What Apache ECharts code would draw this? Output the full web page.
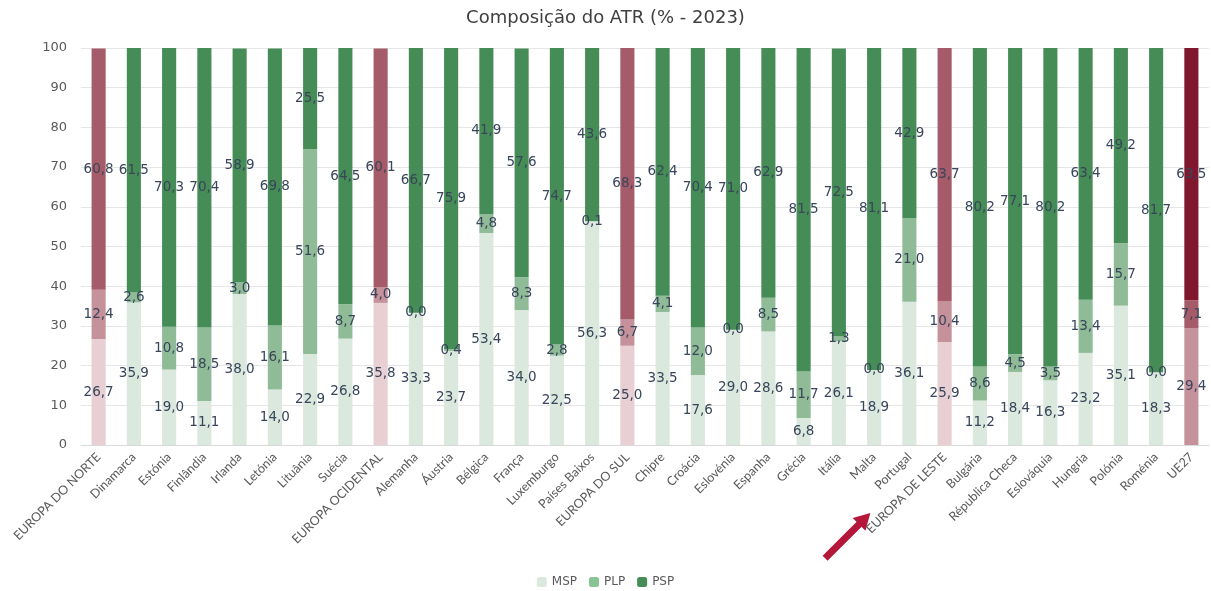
<!DOCTYPE html>
<html>
<head>
<meta charset="utf-8">
<script src="https://cdn.jsdelivr.net/npm/echarts@6/dist/echarts.min.js"></script>
<style>
  html, body { margin: 0; padding: 0; background: #fff; }
  #chart { width: 1211px; height: 591px; }
</style>
</head>
<body>
<div id="chart"></div>
<script>
// dados
const categories = ['EUROPA DO NORTE', 'Dinamarca', 'Estónia', 'Finlândia', 'Irlanda', 'Letónia', 'Lituânia', 'Suécia',
  'EUROPA OCIDENTAL', 'Alemanha', 'Áustria', 'Bélgica', 'França', 'Luxemburgo', 'Países Baixos',
  'EUROPA DO SUL', 'Chipre', 'Croácia', 'Eslovénia', 'Espanha', 'Grécia', 'Itália', 'Malta', 'Portugal',
  'EUROPA DE LESTE', 'Bulgária', 'Républica Checa', 'Eslováquia', 'Hungria', 'Polónia', 'Roménia', 'UE27']
const msp = [26.7, 35.9, 19.0, 11.1, 38.0, 14.0, 22.9, 26.8,
  35.8, 33.3, 23.7, 53.4, 34.0, 22.5, 56.3,
  25.0, 33.5, 17.6, 29.0, 28.6, 6.8, 26.1, 18.9, 36.1,
  25.9, 11.2, 18.4, 16.3, 23.2, 35.1, 18.3, 29.4]
const plp = [12.4, 2.6, 10.8, 18.5, 3.0, 16.1, 51.6, 8.7,
  4.0, 0.0, 0.4, 4.8, 8.3, 2.8, 0.1,
  6.7, 4.1, 12.0, 0.0, 8.5, 11.7, 1.3, 0.0, 21.0,
  10.4, 8.6, 4.5, 3.5, 13.4, 15.7, 0.0, 7.1]
const psp = [60.8, 61.5, 70.3, 70.4, 58.9, 69.8, 25.5, 64.5,
  60.1, 66.7, 75.9, 41.9, 57.6, 74.7, 43.6,
  68.3, 62.4, 70.4, 71.0, 62.9, 81.5, 72.5, 81.1, 42.9,
  63.7, 80.2, 77.1, 80.2, 63.4, 49.2, 81.7, 63.5]
const regions = ['EUROPA DO NORTE', 'EUROPA OCIDENTAL', 'EUROPA DO SUL', 'EUROPA DE LESTE']
const total = 'UE27'

const greens = ['#dbe8dd', '#8fbb97', '#468c56']
const reds = ['#e7cfd3', '#c5929b', '#a55b69']
const dark = ['#c5929b', '#a55b69', '#80172c']

function buildData(values, k) {
  return values.map((v, i) => {
    const c = categories[i]
    let color = greens[k]
    if (regions.includes(c)) color = reds[k]
    if (c === total) color = dark[k]
    return { value: v, itemStyle: { color: color } }
  })
}

const names = ['MSP', 'PLP', 'PSP']
const legendColors = ['#dbe8dd', '#88c494', '#468c56']
const seriesValues = [msp, plp, psp]

const chart = echarts.init(document.getElementById('chart'))
chart.setOption({
  animation: false,
  textStyle: { fontFamily: 'DejaVu Sans' },
  title: {
    text: 'Composição do ATR (% - 2023)',
    left: 'center',
    top: 4,
    textStyle: { fontSize: 18, fontWeight: 'normal', color: '#404040', fontFamily: 'DejaVu Sans' }
  },
  legend: {
    bottom: -2,
    left: 'center',
    itemWidth: 10,
    itemHeight: 10,
    itemGap: 12,
    textStyle: { fontSize: 12, color: '#595959' },
    data: names.map((n, k) => ({ name: n, itemStyle: { color: legendColors[k] } }))
  },
  grid: { left: 81, right: 2, top: 48, bottom: 146 },
  xAxis: {
    type: 'category',
    data: categories,
    axisTick: { show: false },
    axisLine: { lineStyle: { color: '#d9d9d9' } },
    axisLabel: { interval: 0, rotate: 45, fontSize: 12.5, color: '#595959', margin: 10, fontFamily: 'Lato' }
  },
  yAxis: {
    type: 'value',
    min: 0,
    max: 100,
    interval: 10,
    axisLine: { show: false },
    axisTick: { show: false },
    axisLabel: { fontSize: 13, color: '#595959', margin: 14 },
    splitLine: { lineStyle: { color: '#e6e6e6' } }
  },
  series: names.map((n, k) => ({
    name: n,
    type: 'bar',
    stack: 'atr',
    barWidth: '40%',
    itemStyle: { color: legendColors[k] },
    data: buildData(seriesValues[k], k),
    label: {
      show: true,
      position: 'inside',
      fontSize: 13.5,
      color: '#38455a',
      formatter: p => p.value.toFixed(1).replace('.', ',')
    }
  }))
})

// seta a apontar para Portugal
const px = chart.convertToPixel({ xAxisIndex: 0 }, 'Portugal')
chart.setOption({
  graphic: [{
    type: 'group',
    x: px - 39,
    y: 513,
    rotation: Math.PI * 5 / 4,
    children: [
      { type: 'rect', shape: { x: 12, y: -3.5, width: 52, height: 7 }, style: { fill: '#b5173b' } },
      { type: 'polygon', shape: { points: [[0, 0], [16, -9], [16, 9]] }, style: { fill: '#b5173b' } }
    ]
  }]
})
</script>
</body>
</html>
